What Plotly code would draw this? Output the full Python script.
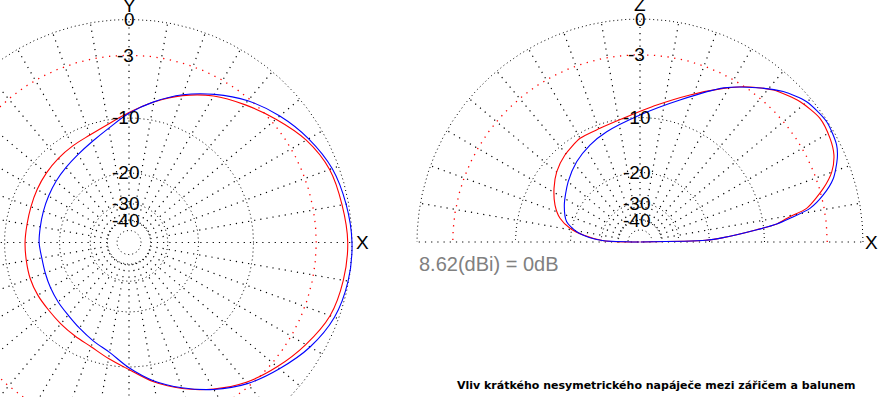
import numpy as np
import plotly.graph_objects as go

# ---------------- data (dB relative to max gain) ----------------
AZ_ANGLE = list(range(0, 360, 10))
AZ_RED_DB = [-0.33, -0.52, -0.75, -1.47, -2.58, -3.68, -4.74, -6.10, -7.67, -9.27,
             -10.61, -11.46, -11.85, -12.15, -12.45, -12.75, -13.03, -13.16, -13.10,
             -13.05, -12.90, -12.88, -12.92, -12.75, -12.45, -11.98, -10.95, -9.65,
             -7.81, -6.20, -4.75, -3.45, -2.45, -1.52, -0.71, -0.42]
AZ_BLUE_DB = [0.00, -0.20, -0.53, -1.24, -2.14, -3.21, -4.55, -6.00, -7.65, -9.36,
              -11.19, -12.53, -13.47, -14.12, -14.60, -15.04, -15.36, -15.56, -15.60,
              -15.85, -15.74, -15.46, -15.11, -14.70, -13.95, -12.99, -11.88, -9.90,
              -7.95, -6.29, -4.69, -3.28, -2.18, -1.11, -0.34, -0.04]

EL_RED_ANGLE = [0, 1.5, 3, 6, 7.5, 9.6, 11.4, 16.3, 20.1, 24.2, 28.6, 34.5, 41.2, 48.7,
                56.4, 61.5, 71.2, 83, 97.7, 109.4, 120, 130.8, 139.8, 148, 156.5, 163.5,
                168.9, 173, 178, 180]
EL_RED_DB = [-100, -21.0, -16.9, -11.0, -8.24, -6.57, -4.66, -2.66, -1.51, -0.82, -0.51,
             -0.36, -0.80, -1.68, -3.07, -4.18, -6.21, -8.24, -9.96, -10.56, -10.67,
             -11.38, -12.29, -13.53, -15.07, -16.88, -19.57, -23.38, -30.97, -100]

EL_BLUE_ANGLE = [0, 1.5, 3, 6, 7.5, 9, 11.2, 14.4, 18.2, 23, 26.3, 32.8, 40.1, 46.4, 52.9,
                 61.4, 74.3, 90, 106.8, 117.3, 128.3, 140.1, 153.9, 164.5, 170.8, 175.1,
                 178, 180]
EL_BLUE_DB = [-100, -21.0, -16.9, -11.0, -8.24, -6.59, -4.33, -2.82, -1.57, -0.68, -0.29,
              -0.07, -0.40, -1.22, -2.44, -4.11, -7.09, -9.66, -11.34, -12.27, -13.39,
              -14.88, -16.70, -18.45, -21.40, -25.59, -31.3, -100]

RING_DB = [0, -3, -10, -20, -30, -40]
RING_LABELS = ["0", "-3", "-10", "-20", "-30", "-40"]
INNER_RING_DB = -50
SPOKE_STEP = 10
REF_GAIN_TEXT = "8.62(dBi) = 0dB"
CAPTION = "Vliv krátkého nesymetrického napáječe mezi zářičem a balunem"
AZ_AXES = ("Y", "X")
EL_AXES = ("Z", "X")

RED = "#ff0000"
BLUE = "#0000ff"
FONT = "Liberation Sans, Arial, sans-serif"
CAPTION_FONT = "DejaVu Sans, Verdana, sans-serif"


def arrl(db):
    """ARRL log scale: 0.89 radius factor per 2 dB."""
    return 0.89 ** (-np.asarray(db, dtype=float) / 2.0)


def to_xy(theta_deg, db):
    r = arrl(db)
    t = np.radians(np.asarray(theta_deg, dtype=float))
    return r * np.cos(t), r * np.sin(t)


# ---------------- layout geometry (pixels) ----------------
W, H = 879, 397
R = 223.0
LC = (129.0, 242.5)
RC = (640.0, 242.0)
SPLIT = 400.0

fig = go.Figure()


def add_grid(xa, ya, half):
    tmax = np.pi if half else 2 * np.pi
    t = np.linspace(0, tmax, 721)
    xs, ys = [], []
    for db in RING_DB + [INNER_RING_DB]:
        if db == -3:
            continue
        r = float(arrl(db))
        xs += list(r * np.cos(t)) + [None]
        ys += list(r * np.sin(t)) + [None]
    fig.add_trace(go.Scatter(x=xs, y=ys, mode="lines", xaxis=xa, yaxis=ya,
                             line=dict(color="black", width=1, dash="1px,3px"),
                             hoverinfo="skip", showlegend=False))
    r3 = float(arrl(-3))
    fig.add_trace(go.Scatter(x=r3 * np.cos(t), y=r3 * np.sin(t), mode="lines",
                             xaxis=xa, yaxis=ya,
                             line=dict(color=RED, width=1.3, dash="1.3px,5.5px"),
                             hoverinfo="skip", showlegend=False))
    r_in = float(arrl(RING_DB[-1]))
    angles = range(0, 181 if half else 360, SPOKE_STEP)
    xs, ys = [], []
    for a in angles:
        ar = np.radians(a)
        xs += [r_in * np.cos(ar), np.cos(ar), None]
        ys += [r_in * np.sin(ar), np.sin(ar), None]
    if half:
        xs += [-r_in, r_in, None]
        ys += [0, 0, None]
    fig.add_trace(go.Scatter(x=xs, y=ys, mode="lines", xaxis=xa, yaxis=ya,
                             line=dict(color="black", width=1.2, dash="1.2px,5px"),
                             hoverinfo="skip", showlegend=False))


add_grid("x", "y", False)
add_grid("x2", "y2", True)

for db, col in ((AZ_RED_DB, RED), (AZ_BLUE_DB, BLUE)):
    ang = AZ_ANGLE + [AZ_ANGLE[0] + 360]
    vals = db + [db[0]]
    x, y = to_xy(ang, vals)
    fig.add_trace(go.Scatter(x=x, y=y, mode="lines", xaxis="x", yaxis="y",
                             line=dict(color=col, width=1.1, shape="spline", smoothing=1.0),
                             hoverinfo="skip", showlegend=False))

for ang, db, col in ((EL_RED_ANGLE, EL_RED_DB, RED), (EL_BLUE_ANGLE, EL_BLUE_DB, BLUE)):
    x, y = to_xy(ang, db)
    fig.add_trace(go.Scatter(x=x, y=y, mode="lines", xaxis="x2", yaxis="y2",
                             line=dict(color=col, width=1.1, shape="spline", smoothing=0.7),
                             hoverinfo="skip", showlegend=False))

ann = []
for xr, yr in (("x", "y"), ("x2", "y2")):
    for db, lab in zip(RING_DB, RING_LABELS):
        ann.append(dict(x=0, y=float(arrl(db)), xref=xr, yref=yr, text=lab,
                        showarrow=False, xanchor="center", yanchor="middle",
                        xshift=0 if lab == "0" else -4,
                        font=dict(family=FONT, size=19, color="black")))


def letter(x, y, xr, yr, txt):
    ann.append(dict(x=x, y=y, xref=xr, yref=yr, text=txt, showarrow=False,
                    xanchor="center", yanchor="middle",
                    font=dict(family=FONT, size=19, color="black")))


letter(0, 1.065, "x", "y", AZ_AXES[0])
letter(1.045, 0, "x", "y", AZ_AXES[1])
letter(0, 1.065, "x2", "y2", EL_AXES[0])
letter(1.04, 0, "x2", "y2", EL_AXES[1])

ann.append(dict(x=-1.0, y=-0.099, xref="x2", yref="y2", text=REF_GAIN_TEXT,
                showarrow=False, xanchor="left", yanchor="middle",
                font=dict(family=FONT, size=20, color="#808080")))
ann.append(dict(x=656.0 / W, y=1 - 385 / H, xref="paper", yref="paper",
                text="<b>" + CAPTION + "</b>", showarrow=False,
                xanchor="center", yanchor="middle",
                font=dict(family=CAPTION_FONT, size=11, color="black")))

noax = dict(visible=False, showgrid=False, zeroline=False, fixedrange=True)
fig.update_layout(
    width=W, height=H,
    margin=dict(l=0, r=0, t=0, b=0),
    paper_bgcolor="white", plot_bgcolor="white",
    showlegend=False,
    xaxis=dict(domain=[0, SPLIT / W], range=[(0 - LC[0]) / R, (SPLIT - LC[0]) / R], **noax),
    yaxis=dict(domain=[0, 1], range=[(LC[1] - H) / R, LC[1] / R], **noax),
    xaxis2=dict(domain=[SPLIT / W, 1], range=[(SPLIT - RC[0]) / R, (W - RC[0]) / R],
                anchor="y2", **noax),
    yaxis2=dict(domain=[0, 1], range=[(RC[1] - H) / R, RC[1] / R], anchor="x2", **noax),
    annotations=ann,
)

fig.write_html("out.html", config={"displayModeBar": False},
               post_script="document.body.style.margin='0';document.body.style.overflow='hidden';")
